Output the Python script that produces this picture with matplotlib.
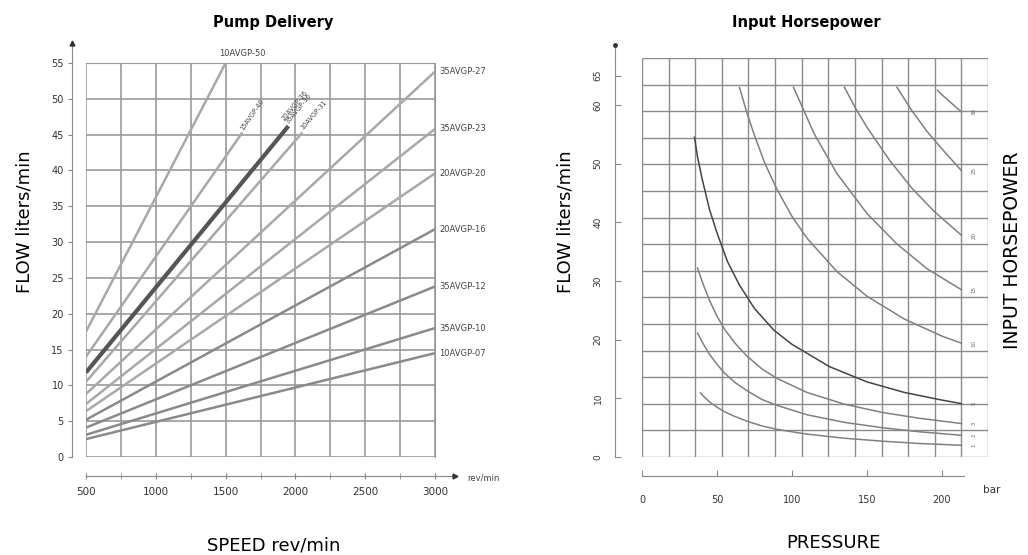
import numpy as np
import matplotlib.pyplot as plt
from matplotlib.transforms import offset_copy

# ---- Pump Delivery data (flow l/min vs speed rev/min) ----
pump_names = ['10AVGP-50', '15AVGP-40', '20AVGP-36\n35AVGP-36', '10AVGP-31',
              '35AVGP-27', '35AVGP-23', '20AVGP-20', '20AVGP-16',
              '35AVGP-12', '35AVGP-10', '10AVGP-07']
start_speed = [500, 500, 500, 500, 500, 500, 500, 500, 500, 500, 500]
start_flow = [17.5, 14.0, 11.8, 10.5, 8.8, 7.4, 6.4, 5.2, 4.1, 3.1, 2.5]
end_speed = [1500, 1620, 1950, 2050, 3000, 3000, 3000, 3000, 3000, 3000, 3000]
end_flow = [55.0, 45.3, 46.2, 45.3, 53.8, 45.8, 39.6, 31.8, 23.8, 18.0, 14.5]
speed_ticks = [500, 1000, 1500, 2000, 2500, 3000]

# ---- Input Horsepower data (flow l/min vs pressure bar) ----
hp_labels = ['30', '25', '20', '15', '10', '5', '3', '2', '1']
hp_pressure = [
    [197, 201, 205, 209, 213],
    [170, 175, 180, 190, 200, 213],
    [135, 142, 150, 165, 180, 195, 213],
    [101, 108, 115, 130, 150, 170, 190, 213],
    [65, 70, 75, 82, 90, 100, 110, 130, 150, 175, 200, 213],
    [35, 37, 40, 45, 50, 57, 65, 75, 88, 100, 125, 150, 175, 200, 213],
    [37, 41, 45, 50, 55, 62, 70, 80, 90, 110, 135, 160, 185, 213],
    [37, 41, 45, 50, 55, 62, 70, 80, 90, 110, 135, 160, 185, 213],
    [39, 42, 45, 50, 55, 62, 70, 80, 90, 110, 135, 160, 185, 213],
]
hp_flow = [
    [62.5, 61.5, 60.6, 59.7, 58.8],
    [63.0, 61.0, 59.0, 55.5, 52.5, 48.8],
    [63.0, 59.6, 56.2, 50.6, 45.8, 41.8, 37.8],
    [63.0, 59.0, 55.0, 48.3, 41.5, 36.3, 32.1, 28.5],
    [63.0, 58.6, 54.8, 50.0, 45.6, 41.0, 37.3, 31.6, 27.4, 23.5, 20.6, 19.4],
    [54.5, 51.2, 47.5, 42.2, 38.2, 33.3, 29.3, 25.3, 21.6, 19.2, 15.4, 12.8,
     11.0, 9.7, 9.1],
    [32.2, 29.3, 26.7, 24.0, 21.8, 19.4, 17.2, 15.0, 13.4, 11.0, 9.0, 7.6,
     6.6, 5.7],
    [21.1, 19.2, 17.5, 15.8, 14.3, 12.7, 11.3, 9.8, 8.8, 7.2, 5.9, 5.0,
     4.3, 3.7],
    [10.9, 10.1, 9.4, 8.5, 7.7, 6.9, 6.1, 5.3, 4.7, 3.9, 3.2, 2.7, 2.3, 2.0],
]
pressure_ticks = [0, 50, 100, 150, 200]
flow_ticks_hp = [0, 10, 20, 30, 40, 50, 60, 65]

W, H = 1028, 555
fig = plt.figure(figsize=(W / 100, H / 100), dpi=100)


def box(x0, y0, x1, y1):
    return [x0 / W, 1 - y1 / H, (x1 - x0) / W, (y1 - y0) / H]


# ================= left: Pump Delivery =================
ax1 = fig.add_axes(box(86, 63, 435, 457))
ax1.set_xlim(500, 3000)
ax1.set_ylim(0, 55)
ax1.set_xticks(speed_ticks)
ax1.set_xticks(np.arange(750, 3000, 500), minor=True)
ax1.set_yticks(np.arange(0, 56, 5))
ax1.grid(which='both', color='#999999', lw=1.2)
ax1.set_axisbelow(True)
for s in ['top', 'right']:
    ax1.spines[s].set_color('#999999')
ax1.spines['left'].set_position(('outward', 10))
ax1.spines['bottom'].set_position(('outward', 14))
ax1.spines['left'].set_color('#888888')
ax1.spines['bottom'].set_color('#888888')
ax1.tick_params(axis='y', length=3, color='#888888', labelsize=7,
                labelcolor='#333333', pad=3)
ax1.tick_params(axis='x', which='both', direction='inout', length=5,
                color='#888888', labelsize=7.5, labelcolor='#333333', pad=5)

for i, name in enumerate(pump_names):
    xs = [start_speed[i], end_speed[i]]
    ys = [start_flow[i], end_flow[i]]
    if i == 2:
        ax1.plot(xs, ys, color='#555555', lw=3.0, solid_capstyle='butt')
    else:
        col = '#a8a8a8' if i < 7 else '#8a8a8a'
        ax1.plot(xs, ys, color=col, lw=1.8, solid_capstyle='butt')

# labels
for i, name in enumerate(pump_names):
    if end_speed[i] == 3000:
        ax1.annotate(name, (end_speed[i], end_flow[i]), xytext=(3, 0),
                     textcoords='offset points', fontsize=6, color='#444444',
                     va='center', ha='left', annotation_clip=False)
    elif i == 0:
        ax1.annotate(name, (end_speed[i], end_flow[i]), xytext=(12, 7),
                     textcoords='offset points', fontsize=6, color='#444444',
                     va='center', ha='center', annotation_clip=False)
    else:
        p0 = ax1.transData.transform((start_speed[i], start_flow[i]))
        p1 = ax1.transData.transform((end_speed[i], end_flow[i]))
        ang = np.degrees(np.arctan2(p1[1] - p0[1], p1[0] - p0[0]))
        ax1.annotate(name, (end_speed[i], end_flow[i]), xytext=(1, 1),
                     textcoords='offset points', fontsize=4.8, color='#444444',
                     rotation=ang, rotation_mode='anchor', va='bottom', ha='left',
                     linespacing=0.9)

# axis arrows
tl = offset_copy(ax1.transAxes, fig=fig, x=-10, units='points')
ax1.plot([0, 0], [1, 1.05], color='#888888', lw=0.8, transform=tl, clip_on=False)
ax1.plot([0], [1.05], marker='^', ms=3.5, color='#333333', transform=tl, clip_on=False)
tb = offset_copy(ax1.transAxes, fig=fig, y=-14, units='points')
ax1.plot([1, 1.057], [0, 0], color='#888888', lw=0.8, transform=tb, clip_on=False)
ax1.plot([1.057], [0], marker='>', ms=3.5, color='#333333', transform=tb, clip_on=False)
fig.text(467 / W, 1 - 478 / H, 'rev/min', fontsize=6, color='#444444', va='center')

fig.text(273 / W, 1 - 22 / H, 'Pump Delivery', fontsize=10.5, fontweight='bold',
         ha='center', va='center')
fig.text(25 / W, 1 - 222 / H, 'FLOW liters/min', fontsize=13, rotation=90,
         ha='center', va='center')
fig.text(274 / W, 1 - 545 / H, 'SPEED rev/min', fontsize=13, ha='center', va='center')

# ================= right: Input Horsepower =================
xmax, ymax = 230.7, 68.0
ax2 = fig.add_axes(box(642, 58, 988, 457))
ax2.set_xlim(0, xmax)
ax2.set_ylim(0, ymax)
ax2.vlines(np.linspace(0, xmax, 14), 0, ymax, color='#8a8a8a', lw=1.0)
ax2.hlines(np.linspace(0, ymax, 16), 0, xmax, color='#8a8a8a', lw=1.0)
ax2.spines['top'].set_visible(False)
ax2.spines['right'].set_visible(False)
ax2.spines['left'].set_position(('outward', 19.4))
ax2.spines['bottom'].set_position(('outward', 13.7))
ax2.spines['left'].set_color('#888888')
ax2.spines['bottom'].set_color('#888888')
ax2.spines['bottom'].set_bounds(0, 215)
ax2.set_xticks(pressure_ticks)
ax2.set_yticks(flow_ticks_hp)
ax2.tick_params(axis='x', direction='in', length=4, color='#888888',
                labelsize=7, labelcolor='#333333', pad=14)
ax2.tick_params(axis='y', direction='in', length=4, color='#888888', labelsize=6.5,
                labelcolor='#333333', labelrotation=90, pad=9)
for lab in ax2.get_yticklabels():
    lab.set_va('center')

for i, lab in enumerate(hp_labels):
    col = '#444444' if lab == '5' else '#808080'
    ax2.plot(hp_pressure[i], hp_flow[i], color=col, lw=1.1)
    ax2.text(221.5, hp_flow[i][-1], lab, fontsize=4, color='#666666',
             rotation=90, ha='center', va='center')

tl2 = offset_copy(ax2.transAxes, fig=fig, x=-19.4, units='points')
ax2.plot([0, 0], [1, 1.033], color='#888888', lw=0.8, transform=tl2, clip_on=False)
ax2.plot([0], [1.033], marker='o', ms=2.5, color='#333333', transform=tl2, clip_on=False)

fig.text(983 / W, 1 - 490 / H, 'bar', fontsize=7.5, color='#333333', va='center')
fig.text(806 / W, 1 - 22 / H, 'Input Horsepower', fontsize=10.5, fontweight='bold',
         ha='center', va='center')
fig.text(565 / W, 1 - 222 / H, 'FLOW liters/min', fontsize=13, rotation=90,
         ha='center', va='center')
fig.text(833 / W, 1 - 543 / H, 'PRESSURE', fontsize=13, ha='center', va='center')
fig.text(1013 / W, 1 - 250 / H, 'INPUT HORSEPOWER', fontsize=13.5, rotation=90,
         ha='center', va='center')

fig.savefig('out.png', dpi=100)
